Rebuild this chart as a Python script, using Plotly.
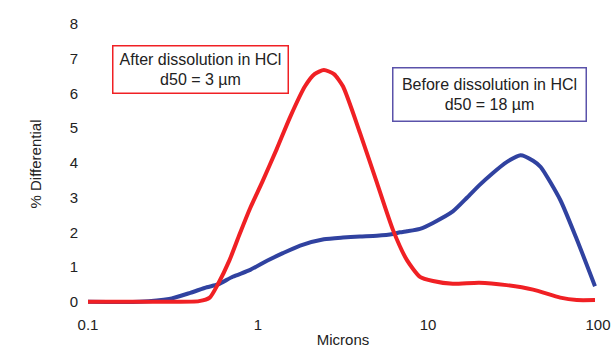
import plotly.graph_objects as go

# Particle size (microns) and % differential values
red_x = [0.1, 0.3, 0.45, 0.52, 0.58, 0.68, 0.78, 0.9, 1.06, 1.29, 1.54, 1.89, 2.15, 2.44,
         2.8, 3.16, 3.98, 5.01, 6.22, 7.52, 8.97, 10.7, 14, 20, 29, 41.5, 60, 75, 96]
red_y = [0, 0, 0.02, 0.12, 0.5, 1.2, 1.95, 2.7, 3.45, 4.4, 5.3, 6.2, 6.55, 6.67,
         6.55, 6.2, 4.86, 3.42, 2.07, 1.2, 0.72, 0.6, 0.52, 0.55, 0.48, 0.35, 0.12, 0.05, 0.05]

blue_x = [0.1, 0.2, 0.3, 0.4, 0.5, 0.58, 0.71, 0.9, 1.13, 1.4, 1.77, 2.44, 3.16, 3.98,
          5.0, 6.22, 6.84, 7.52, 8.97, 10.7, 14, 17, 20, 24, 29, 35, 41.5, 46, 60, 75, 96]
blue_y = [0, 0, 0.08, 0.26, 0.42, 0.5, 0.72, 0.92, 1.18, 1.4, 1.62, 1.8, 1.85, 1.88,
          1.9, 1.95, 2.0, 2.03, 2.1, 2.27, 2.6, 3.0, 3.35, 3.7, 4.02, 4.22, 4.06, 3.88, 2.93, 1.8, 0.45]

x_ticks = [0.1, 1, 10, 100]
x_tick_labels = ["0.1", "1", "10", "100"]
y_ticks = [0, 1, 2, 3, 4, 5, 6, 7, 8]

RED = "rgb(240,32,36)"
BLUE = "rgb(48,66,160)"
FONT = "Liberation Sans, Arial, sans-serif"

fig = go.Figure()
fig.add_trace(go.Scatter(x=blue_x, y=blue_y, mode="lines",
                         line=dict(color=BLUE, width=4, shape="spline", smoothing=0.6),
                         showlegend=False))
fig.add_trace(go.Scatter(x=red_x, y=red_y, mode="lines",
                         line=dict(color=RED, width=4, shape="spline", smoothing=0.6),
                         showlegend=False))

fig.add_annotation(xref="paper", yref="paper", x=0.22, y=0.831,
                   xanchor="center", yanchor="middle",
                   text="After dissolution in HCl<br>d50 = 3 µm", showarrow=False,
                   font=dict(family=FONT, size=16, color="#222"),
                   bordercolor=RED, borderwidth=1.5, borderpad=3,
                   width=168, height=40, bgcolor="white", align="center")
fig.add_annotation(xref="paper", yref="paper", x=0.788, y=0.743,
                   xanchor="center", yanchor="middle",
                   text="Before dissolution in HCl<br>d50 = 18 µm", showarrow=False,
                   font=dict(family=FONT, size=16, color="#222"),
                   bordercolor="rgb(90,82,170)", borderwidth=1.5, borderpad=3,
                   width=186, height=46, bgcolor="white", align="center")

fig.update_layout(
    width=614, height=353,
    margin=dict(l=88, r=16, t=22, b=47),
    paper_bgcolor="white", plot_bgcolor="white",
    font=dict(family=FONT, size=15, color="#222"),
)
fig.update_xaxes(type="log", range=[-1, 2], tickvals=x_ticks, ticktext=x_tick_labels,
                 showgrid=False, zeroline=False, showline=False, automargin=False,
                 ticklabelstandoff=8,
                 title=dict(text="Microns", font=dict(size=15), standoff=2))
fig.update_yaxes(range=[-0.12, 8.05], tickvals=y_ticks,
                 showgrid=False, zeroline=False, showline=False, automargin=False,
                 ticklabelstandoff=9,
                 title=dict(text="% Differential", font=dict(size=15), standoff=24))

fig.write_html("out.html")
